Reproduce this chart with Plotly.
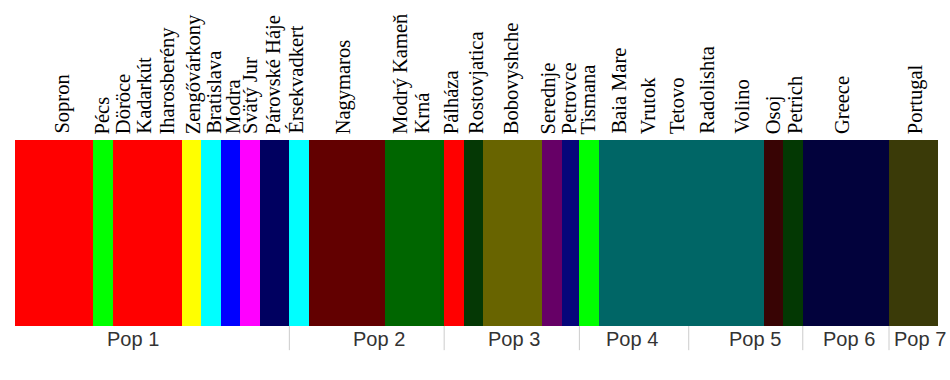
import plotly.graph_objects as go

# Cluster blocks (number of individuals, dominant cluster colour)
block_sizes = [20, 5, 17.5, 5, 5, 5, 5, 7.5, 5, 19.5, 15, 5, 5, 15, 5, 4.5, 5, 42, 5, 5, 22, 12.5]
block_colors = ["#FF0000", "#00FF00", "#FF0000", "#FFFF00", "#00FFFF", "#0000FF", "#FF00FF",
                "#000060", "#00FFFF", "#620000", "#006600", "#FF0000", "#053805", "#686400",
                "#660066", "#06067A", "#00FF00", "#006666", "#380404", "#033803", "#02023C",
                "#3A3A08"]
membership = [1.0] * len(block_sizes)

# Site labels (name, position in individuals)
site_names = ["Sopron", "Pécs", "Döröce", "Kadarkút", "Iharosberény", "Zengővárkony",
              "Bratislava", "Modra", "Svätý Jur", "Párovské Háje", "Érsekvadkert",
              "Nagymaros", "Modrý Kameň", "Krná", "Pálháza", "Rostovjatica", "Bobovyshche",
              "Serednje", "Petrovce", "Tismana", "Baia Mare", "Vrutok", "Tetovo",
              "Radolishta", "Volino", "Osoj", "Petrich", "Greece", "Portugal"]
site_pos = [12.0, 22.3, 27.6, 32.7, 38.9, 45.5, 50.6, 55.5, 60.1, 66.0, 71.6,
            83.9, 98.2, 103.6, 111.3, 117.6, 126.6, 136.1, 141.4, 146.3, 154.0,
            161.6, 168.8, 176.5, 185.4, 193.6, 199.0, 211.0, 229.7]

# Population groups
pop_names = ["Pop 1", "Pop 2", "Pop 3", "Pop 4", "Pop 5", "Pop 6", "Pop 7"]
pop_label_pos = [30.2, 92.8, 127.4, 157.3, 188.7, 212.8, 230.9]
pop_boundaries = [70.0, 109.5, 144.0, 171.9, 201.0, 223.0]

starts = []
s = 0
for w in block_sizes:
    starts.append(s)
    s += w
total = s
centers = [st + w / 2 for st, w in zip(starts, block_sizes)]

fig = go.Figure()
fig.add_trace(go.Bar(x=centers, y=membership, width=block_sizes,
                     marker=dict(color=block_colors, line=dict(width=0)),
                     showlegend=False, hoverinfo="skip"))

for name, p in zip(site_names, site_pos):
    fig.add_annotation(x=p, y=1, xref="x", yref="paper", text=name, showarrow=False,
                       textangle=-90, xanchor="center", yanchor="bottom", yshift=4,
                       font=dict(family="Liberation Serif", size=20.5, color="black"))

for name, p in zip(pop_names, pop_label_pos):
    fig.add_annotation(x=p, y=0, xref="x", yref="paper", text=name, showarrow=False,
                       xanchor="center", yanchor="middle", yshift=-13,
                       font=dict(family="Liberation Sans", size=20, color="#333333"))

for b in pop_boundaries:
    fig.add_shape(type="line", x0=b, x1=b, xref="x", y0=0, y1=-0.13, yref="paper",
                  line=dict(color="#CCCCCC", width=1))

fig.update_layout(width=950, height=380, margin=dict(l=15, r=12, t=140, b=54),
                  plot_bgcolor="white", paper_bgcolor="white", bargap=0)
fig.update_xaxes(range=[0, total], visible=False)
fig.update_yaxes(range=[0, 1], visible=False)

fig.write_html("out.html", config={"displayModeBar": False},
               post_script="document.body.style.margin='0px';")
